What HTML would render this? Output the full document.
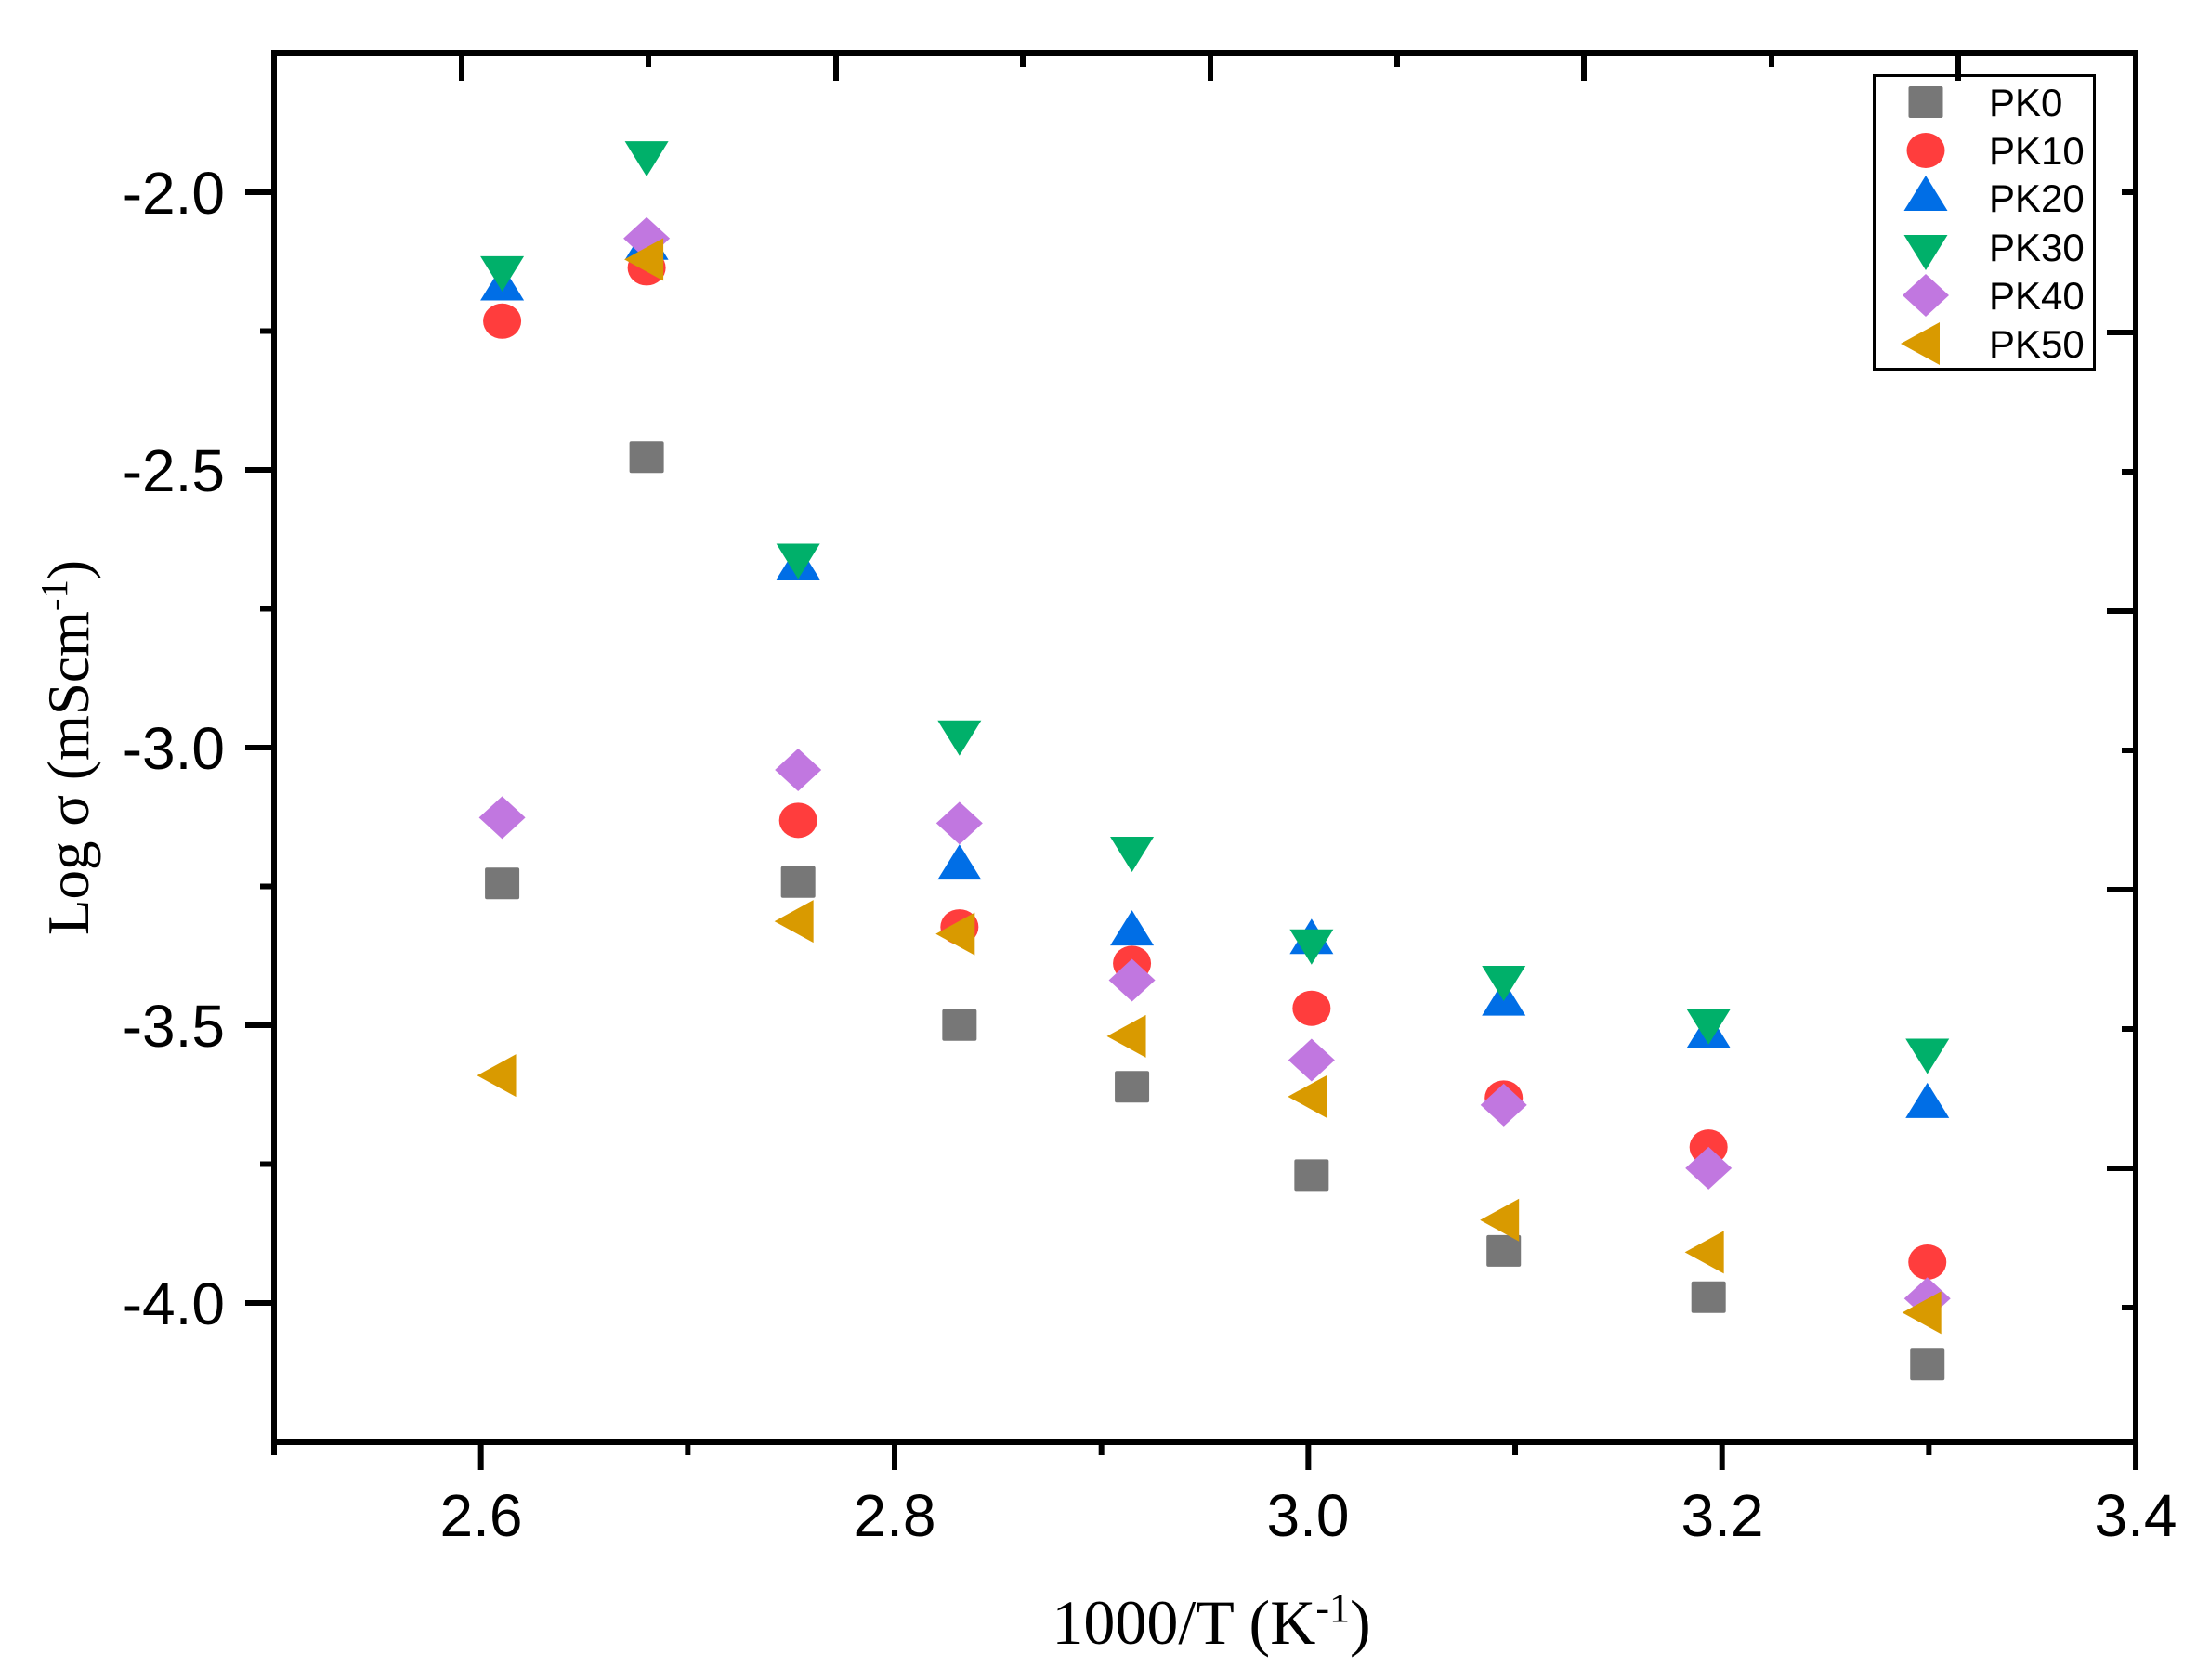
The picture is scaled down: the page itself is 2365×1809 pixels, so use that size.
<!DOCTYPE html>
<html><head><meta charset="utf-8"><style>html,body{margin:0;padding:0;background:#fff}svg{display:block}</style></head>
<body>
<svg id="s" width="2365" height="1809" viewBox="0 0 2365 1809" xmlns="http://www.w3.org/2000/svg">
<g id="g"></g>
<g font-family="Liberation Sans, sans-serif" font-size="64" text-anchor="end" fill="#000">
<text x="242" y="230">-2.0</text>
<text x="242" y="529">-2.5</text>
<text x="242" y="828">-3.0</text>
<text x="242" y="1127">-3.5</text>
<text x="242" y="1426">-4.0</text>
</g>
<g font-family="Liberation Sans, sans-serif" font-size="64" text-anchor="middle" fill="#000">
<text x="518" y="1654">2.6</text>
<text x="963" y="1654">2.8</text>
<text x="1408" y="1654">3.0</text>
<text x="1854" y="1654">3.2</text>
<text x="2299" y="1654">3.4</text>
</g>
<text x="1304" y="1770" font-family="Liberation Serif, serif" font-size="68" text-anchor="middle">1000/T (K<tspan baseline-shift="super" font-size="44">-1</tspan>)</text>
<text transform="translate(95,805) rotate(-90)" font-family="Liberation Serif, serif" font-size="63" text-anchor="middle">Log σ (mScm<tspan baseline-shift="super" font-size="41">-1</tspan>)</text>
<rect x="2017.5" y="81.5" width="237" height="316" fill="none" stroke="#000" stroke-width="3"/>
<g font-family="Liberation Sans, sans-serif" font-size="42" fill="#000">
<text x="2141" y="125">PK0</text>
<text x="2141" y="177">PK10</text>
<text x="2141" y="228">PK20</text>
<text x="2141" y="281">PK30</text>
<text x="2141" y="333">PK40</text>
<text x="2141" y="385">PK50</text>
</g>
</svg>
<script>
const g=document.getElementById('g');let h='';
const L=(x1,y1,x2,y2,w)=>h+=`<line x1="${x1}" y1="${y1}" x2="${x2}" y2="${y2}" stroke="#000" stroke-width="${w||6}"/>`;
h+=`<rect x="295" y="57" width="2004" height="1496" fill="none" stroke="#000" stroke-width="6"/>`;
for(let i=0;i<=9;i++){const x=295+i*222.67;L(x,1553,x,i%2?1583:1567);}
for(let i=0;i<=8;i++){const y=207+i*149.5;L(295,y,i%2?280:264,y);}
[497,698,900,1101,1303,1504,1705,1907,2108].forEach((x,i)=>L(x,57,x,i%2?72:87));
[207,358,508,658,808,958,1108,1258,1408].forEach((y,i)=>L(2299,y,i%2?2268:2284,y));
const C={sq:'#777777',ci:'#ff3d3d',tu:'#006ee6',td:'#00b06a',di:'#c177e0',tl:'#d99a00'};
function m(t,x,y){
 if(t=='sq')h+=`<rect x="${x-18.5}" y="${y-17}" width="37" height="34" rx="2" fill="${C.sq}"/>`;
 if(t=='ci')h+=`<ellipse cx="${x}" cy="${y}" rx="20.5" ry="19" fill="${C.ci}"/>`;
 if(t=='tu')h+=`<polygon points="${x},${y-24} ${x+23.5},${y+14} ${x-23.5},${y+14}" fill="${C.tu}"/>`;
 if(t=='td')h+=`<polygon points="${x},${y+24} ${x+23.5},${y-14} ${x-23.5},${y-14}" fill="${C.td}"/>`;
 if(t=='di')h+=`<polygon points="${x},${y-23} ${x+25},${y} ${x},${y+23} ${x-25},${y}" fill="${C.di}"/>`;
 if(t=='tl')h+=`<polygon points="${x-27},${y} ${x+15},${y-23} ${x+15},${y+23}" fill="${C.tl}"/>`;
}
const X=[358,461,569,684,807,935,1072,1218,1374].map(v=>v*1.51);
const XL=[354,459,566,681,803,932,1069,1215,1370].map(v=>v*1.51+6);
const D={sq:[630,326,629,731,775,838,892,925,973],ci:[229,191,585,661,687,719,783,818,900],
tu:[205,176,404,618,665,671,715,738,788],td:[192,110,397,523,606,672,698,729,750],
di:[583,170,549,587,699,756,788,833,926],tl:[767,185,657,666,739,782,870,893,936]};
['sq','ci','tu','td','di','tl'].forEach(t=>D[t].forEach((v,i)=>m(t,t=='tl'?XL[i]:X[i],v*1.51)));
[['sq',110],['ci',162],['tu',213],['td',267],['di',318],['tl',370]].forEach(([t,y])=>m(t,2073,y));
g.innerHTML=h;
</script>
</body></html>
